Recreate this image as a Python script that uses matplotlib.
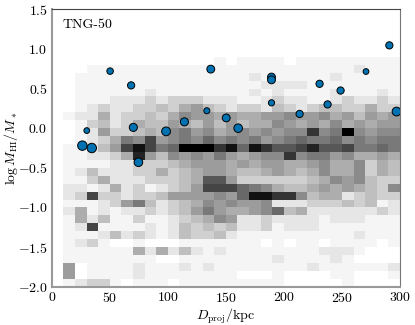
import numpy as np
import matplotlib
matplotlib.use("Agg")
import matplotlib.pyplot as plt
from matplotlib.colors import LinearSegmentedColormap

plt.rcParams['font.family'] = 'serif'
plt.rcParams['font.serif'] = ['cmr10']
plt.rcParams['mathtext.fontset'] = 'cm'
plt.rcParams['axes.formatter.use_mathtext'] = True
plt.rcParams['axes.unicode_minus'] = True

# 2D histogram, darkness level 0-15 (hex), rows from top (0.8..0.9) down to (-2.0..-1.9)
# columns: 10 kpc bins from 0 to 300
x_edges = np.arange(0, 301, 10)
y_edges = np.round(np.arange(-2.0, 0.91, 0.1), 1)
hist_rows = [
    "00000 00000 00001 01111 01111 11111",
    "00011 11111 11111 11111 11111 12111",
    "00111 11111 11111 11211 11112 11111",
    "00111 11111 11111 11122 22111 11111",
    "00111 11121 11111 11212 11112 11121",
    "00111 22232 33322 21123 22112 32232",
    "00123 22334 35643 23324 32344 33533",
    "01225 23343 57665 65566 76675 64656",
    "00134 23544 65464 64557 65657 56566",
    "00126 33454 78675 67676 77c78 f7677",
    "00123 587b6 78797 87867 89889 78788",
    "01124 6beb8 9fffc e9eca abdaa b8898",
    "01122 35d64 76768 65677 c7886 75565",
    "01111 22333 45666 56566 55675 57354",
    "01242 22335 34566 54456 54575 57354",
    "01135 22233 345aa 63333 33457 67433",
    "02212 52312 346bb b9875 44565 65437",
    "023b3 32334 66667 69eec c7455 23433",
    "01112 36842 34576 76672 22333 43412",
    "02512 12232 34686 55679 45222 22232",
    "01524 11311 23457 62232 22212 22111",
    "012b1 11121 24343 42231 22211 11111",
    "01112 42321 24334 21111 11111 12111",
    "01231 00100 01111 11101 01101 11101",
    "01111 11525 24212 11111 11122 21000",
    "01111 11110 01111 11112 11112 10000",
    "06011 11211 12121 11111 11211 11112",
    "06011 11211 11111 10001 00001 10001",
    "01233 10111 01111 11111 00000 10000",
]

# galaxies: projected distance, HI fraction, marker size
d_proj = [26.4, 34.5, 30.2, 50.3, 68.4, 70.3, 74.7, 98.5, 114.3, 133.6, 137.0,
          150.3, 160.6, 189.3, 189.3, 189.3, 213.5, 230.7, 237.6, 248.8, 270.7,
          290.8, 297.0]
log_fhi = [-0.22, -0.25, -0.03, 0.72, 0.54, 0.01, -0.43, -0.04, 0.08, 0.22, 0.745,
           0.13, 0.0, 0.645, 0.61, 0.32, 0.18, 0.56, 0.30, 0.475, 0.715,
           1.045, 0.21]
marker_size = [46, 46, 17, 22, 27, 34, 38, 40, 34, 19, 32,
               32, 38, 32, 32, 20, 27, 27, 27, 27, 17,
               27, 40]

grid = np.array([[int(c, 16) for c in r.replace(" ", "")] for r in hist_rows])[::-1]
grid = np.ma.masked_equal(grid, 0)

# faint counts stay very light, then linear to black
cmap = LinearSegmentedColormap.from_list(
    "wk", [(0.0, "#ffffff"), (1 / 15, "#f5f5f5"), (2 / 15, "#e6e6e6"),
           (3 / 15, "#d0d0d0"), (1.0, "#000000")])

fig = plt.figure(figsize=(4.15, 3.25), dpi=100)
ax = fig.add_axes([0.1246, 0.1178, 0.8393, 0.8536])

ax.pcolormesh(x_edges, y_edges, grid, cmap=cmap, vmin=0, vmax=15)
ax.scatter(d_proj, log_fhi, s=marker_size, c='#0072b2', edgecolors='black',
           linewidths=0.7, zorder=3)

ax.set_xlim(0, 300)
ax.set_ylim(-2.0, 1.5)
ax.set_xticks(np.arange(0, 301, 50))
ax.set_yticks(np.arange(-2.0, 1.51, 0.5))
ax.yaxis.set_major_formatter(matplotlib.ticker.FuncFormatter(lambda v, p: f"${v:.1f}$"))
ax.xaxis.set_major_formatter(matplotlib.ticker.FuncFormatter(lambda v, p: f"${v:.0f}$"))
ax.tick_params(length=0, labelsize=10, pad=3)

ax.set_xlabel(r"$D_{\rm proj}/{\rm kpc}$", fontsize=10)
ax.set_ylabel(r"$\log M_{\rm HI}/M_*$", fontsize=10)
ax.xaxis.set_label_coords(0.5, -0.072)
ax.yaxis.set_label_coords(-0.09, 0.5)
ax.text(0.03, 0.965, "TNG-50", transform=ax.transAxes, ha='left', va='top', fontsize=10)

ax.spines['left'].set_color('#999999')
ax.spines['left'].set_linewidth(1.5)
ax.spines['bottom'].set_color('#999999')
ax.spines['bottom'].set_linewidth(1.5)
ax.spines['top'].set_color('#444444')
ax.spines['top'].set_linewidth(0.8)
ax.spines['right'].set_color('#777777')
ax.spines['right'].set_linewidth(0.8)

fig.savefig("out.png", dpi=100)
